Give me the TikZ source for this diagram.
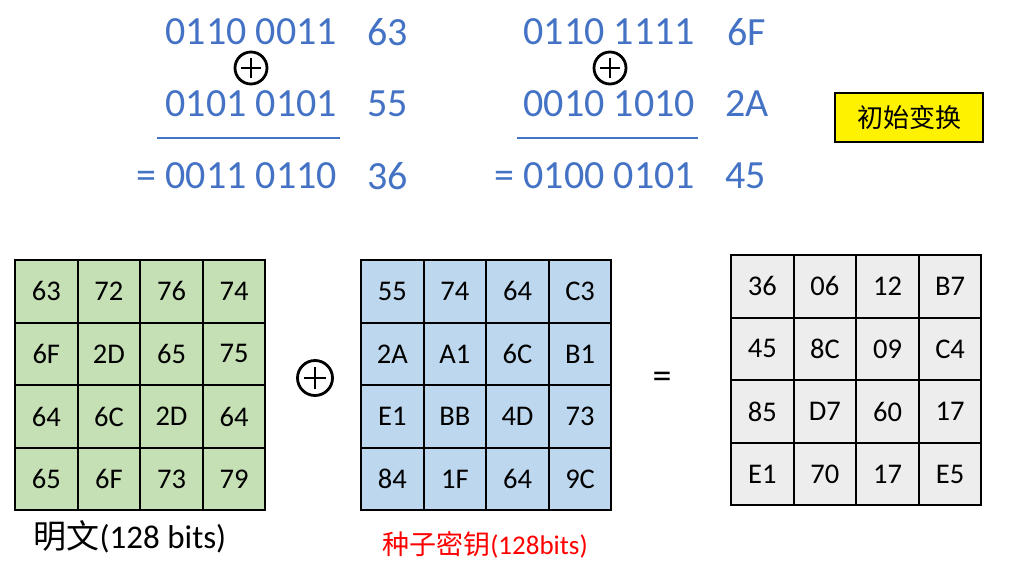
\documentclass[tikz,border=0pt]{standalone}
\usepackage{fontspec}
\setmainfont{Carlito}
\newfontfamily\cjk{Noto Sans CJK SC}
\usetikzlibrary{positioning}

\definecolor{bitblue}{HTML}{4472C4}
\definecolor{plaingreen}{HTML}{C5E0B4}
\definecolor{keyblue}{HTML}{BDD7EE}
\definecolor{stategray}{HTML}{EDEDED}

\begin{document}
\begin{tikzpicture}[
    x=1pt, y=-1pt,
    bits/.style={text=bitblue, inner sep=0pt, font=\fontsize{40}{48}\selectfont},
    hexval/.style={bits, anchor=west},
    xorsign/.style={circle, draw, line width=2.8pt, inner sep=0pt, minimum size=#1,
        path picture={\draw[line width=2.8pt]
            ([xshift=-0.31*#1]path picture bounding box.center) -- ([xshift=0.31*#1]path picture bounding box.center)
            ([yshift=-0.31*#1]path picture bounding box.center) -- ([yshift=0.31*#1]path picture bounding box.center);}},
    cell/.style={draw, line width=2pt, minimum width=62.6pt, minimum height=62.6pt, inner sep=0pt,
        font=\fontsize{28.5}{34}\selectfont},
    plaincell/.style={cell, fill=plaingreen},
    keycell/.style={cell, fill=keyblue},
    statecell/.style={cell, fill=stategray},
    sumbar/.style={draw=bitblue, line width=2.6pt},
    tag/.style={draw, line width=1.6pt, fill=yellow, minimum width=148pt, minimum height=49pt,
        font=\cjk\fontsize{26}{30}\selectfont}
]
\useasboundingbox (0,0) rectangle (1009,573);

% first byte: 63 xor 55
\node[bits, anchor=east] (a1) at (337,32) {0110 0011};
\node[hexval, right=30pt of a1] (a1h) {63};
\node[xorsign=32pt] (ax) at (251,68) {};
\node[bits, anchor=east] (a2) at (337,104) {0101 0101};
\node[hexval, right=30pt of a2] (a2h) {55};
\coordinate (abl) at (157,138);
\coordinate (abr) at (340,138);
\draw[sumbar] (abl) -- (abr);
\node[bits, anchor=east] (a3) at (337,176) {= 0011 0110};
\node[hexval, right=30pt of a3] (a3h) {36};

% second byte: 6F xor 2A
\node[bits, anchor=east] (b1) at (695,32) {0110 1111};
\node[hexval, right=32pt of b1] (b1h) {6F};
\node[xorsign=32pt] (bx) at (610,68) {};
\node[bits, anchor=east] (b2) at (695,104) {0010 1010};
\node[hexval, right=30pt of b2] (b2h) {2A};
\coordinate (bbl) at (517,138);
\coordinate (bbr) at (698,138);
\draw[sumbar] (bbl) -- (bbr);
\node[bits, anchor=east] (b3) at (695,176) {= 0100 0101};
\node[hexval, right=30pt of b3] (b3h) {45};

\node[tag] (init) at (909,117.5) {初始变换};

% state grids
\foreach \row [count=\r from 0] in {{63,72,76,74},{6F,2D,65,75},{64,6C,2D,64},{65,6F,73,79}}
  \foreach \v [count=\c from 0] in \row
    \node[plaincell] (p\r\c) at (46.3+62.6*\c, 291.3+62.6*\r) {\v};

\foreach \row [count=\r from 0] in {{55,74,64,C3},{2A,A1,6C,B1},{E1,BB,4D,73},{84,1F,64,9C}}
  \foreach \v [count=\c from 0] in \row
    \node[keycell] (k\r\c) at (392.3+62.6*\c, 291.3+62.6*\r) {\v};

\foreach \row [count=\r from 0] in {{36,06,12,B7},{45,8C,09,C4},{85,D7,60,17},{E1,70,17,E5}}
  \foreach \v [count=\c from 0] in \row
    \node[statecell] (s\r\c) at (762.3+62.6*\c, 286.3+62.6*\r) {\v};

\node[xorsign=35pt] (gx) at (315,378) {};
\node[font=\fontsize{38}{44}\selectfont, inner sep=0pt] (eq) at (662,380) {=};

\node[font=\fontsize{33}{38}\selectfont] (plabel) at (130,537) {{\cjk 明文}(128 bits)};
\node[text=red, font=\fontsize{27}{32}\selectfont] (klabel) at (485,545) {{\cjk 种子密钥}(128bits)};
\end{tikzpicture}
\end{document}
